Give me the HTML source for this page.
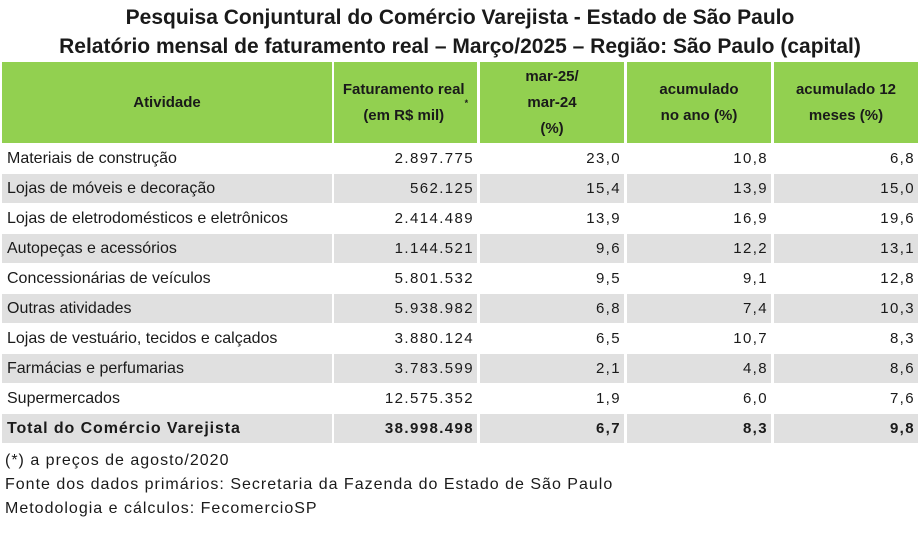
<!DOCTYPE html>
<html><head><meta charset="utf-8"><style>
body{margin:0;width:920px;height:538px;background:#fff;font-family:"Liberation Sans Narrow","Liberation Sans",sans-serif;color:#1a1a1a;position:relative;overflow:hidden}
.t{position:absolute;left:0;width:920px;text-align:center;font-family:"Liberation Sans",sans-serif;font-weight:bold;font-size:21px}
.c{position:absolute;box-sizing:border-box;font-size:16px;display:flex;align-items:center}
.h{background:#92d050;justify-content:center;text-align:center;font-weight:bold;line-height:26px;font-size:15px}
.g{background:#e0e0e0}
.r{justify-content:flex-end;padding-right:3px;font-family:"Liberation Sans",sans-serif;font-size:15px;letter-spacing:1.4px}
.l{padding-left:5px}
.b{font-weight:bold}
.l.b{letter-spacing:0.9px}
.f{position:absolute;left:5px;font-family:"Liberation Sans",sans-serif;font-size:16px;letter-spacing:1px}
</style></head><body>
<div class="t" style="top:6px">Pesquisa Conjuntural do Comércio Varejista - Estado de São Paulo</div>
<div class="t" style="top:35px">Relatório mensal de faturamento real – Março/2025 – Região: São Paulo (capital)</div>
<div id="tbl"></div>
<div class="f" style="top:452px">(*) a preços de agosto/2020</div>
<div class="f" style="top:476px">Fonte dos dados primários: Secretaria da Fazenda do Estado de São Paulo</div>
<div class="f" style="top:500px">Metodologia e cálculos: FecomercioSP</div>
<script>
const activities=["Materiais de construção","Lojas de móveis e decoração","Lojas de eletrodomésticos e eletrônicos","Autopeças e acessórios","Concessionárias de veículos","Outras atividades","Lojas de vestuário, tecidos e calçados","Farmácias e perfumarias","Supermercados","Total do Comércio Varejista"];
const revenue=["2.897.775","562.125","2.414.489","1.144.521","5.801.532","5.938.982","3.880.124","3.783.599","12.575.352","38.998.498"];
const monthly=["23,0","15,4","13,9","9,6","9,5","6,8","6,5","2,1","1,9","6,7"];
const ytd=["10,8","13,9","16,9","12,2","9,1","7,4","10,7","4,8","6,0","8,3"];
const last12=["6,8","15,0","19,6","13,1","12,8","10,3","8,3","8,6","7,6","9,8"];
const headers=["Atividade","Faturamento real<br>(em R$ mil)<sup style='font-size:9px'>*</sup>","mar-25/<br>mar-24<br>(%)","acumulado<br>no ano (%)","acumulado 12<br>meses (%)"];
const colX=[2,334,480,627,774],colW=[330,143,144,144,144];
const T=document.getElementById('tbl');
function cell(cls,x,y,w,h,html,name){const d=document.createElement('div');d.className='c '+cls;


d.style.cssText=`left:${x}px;top:${y}px;width:${w}px;height:${h}px`;d.innerHTML=html;T.appendChild(d);}
headers.forEach((h,i)=>cell('h',colX[i],62,colW[i],81,h,'header-cell'));
const cols=[activities,revenue,monthly,ytd,last12];
activities.forEach((a,r)=>{const y=143+30*r;const g=r%2==1?' g':'';const b=r==9?' b':'';
cols.forEach((arr,i)=>cell((i==0?'l':'r')+g+b,colX[i],y+1,colW[i],29,arr[r],i==0?'activity-label':'value-cell'));});
</script>
</body></html>
